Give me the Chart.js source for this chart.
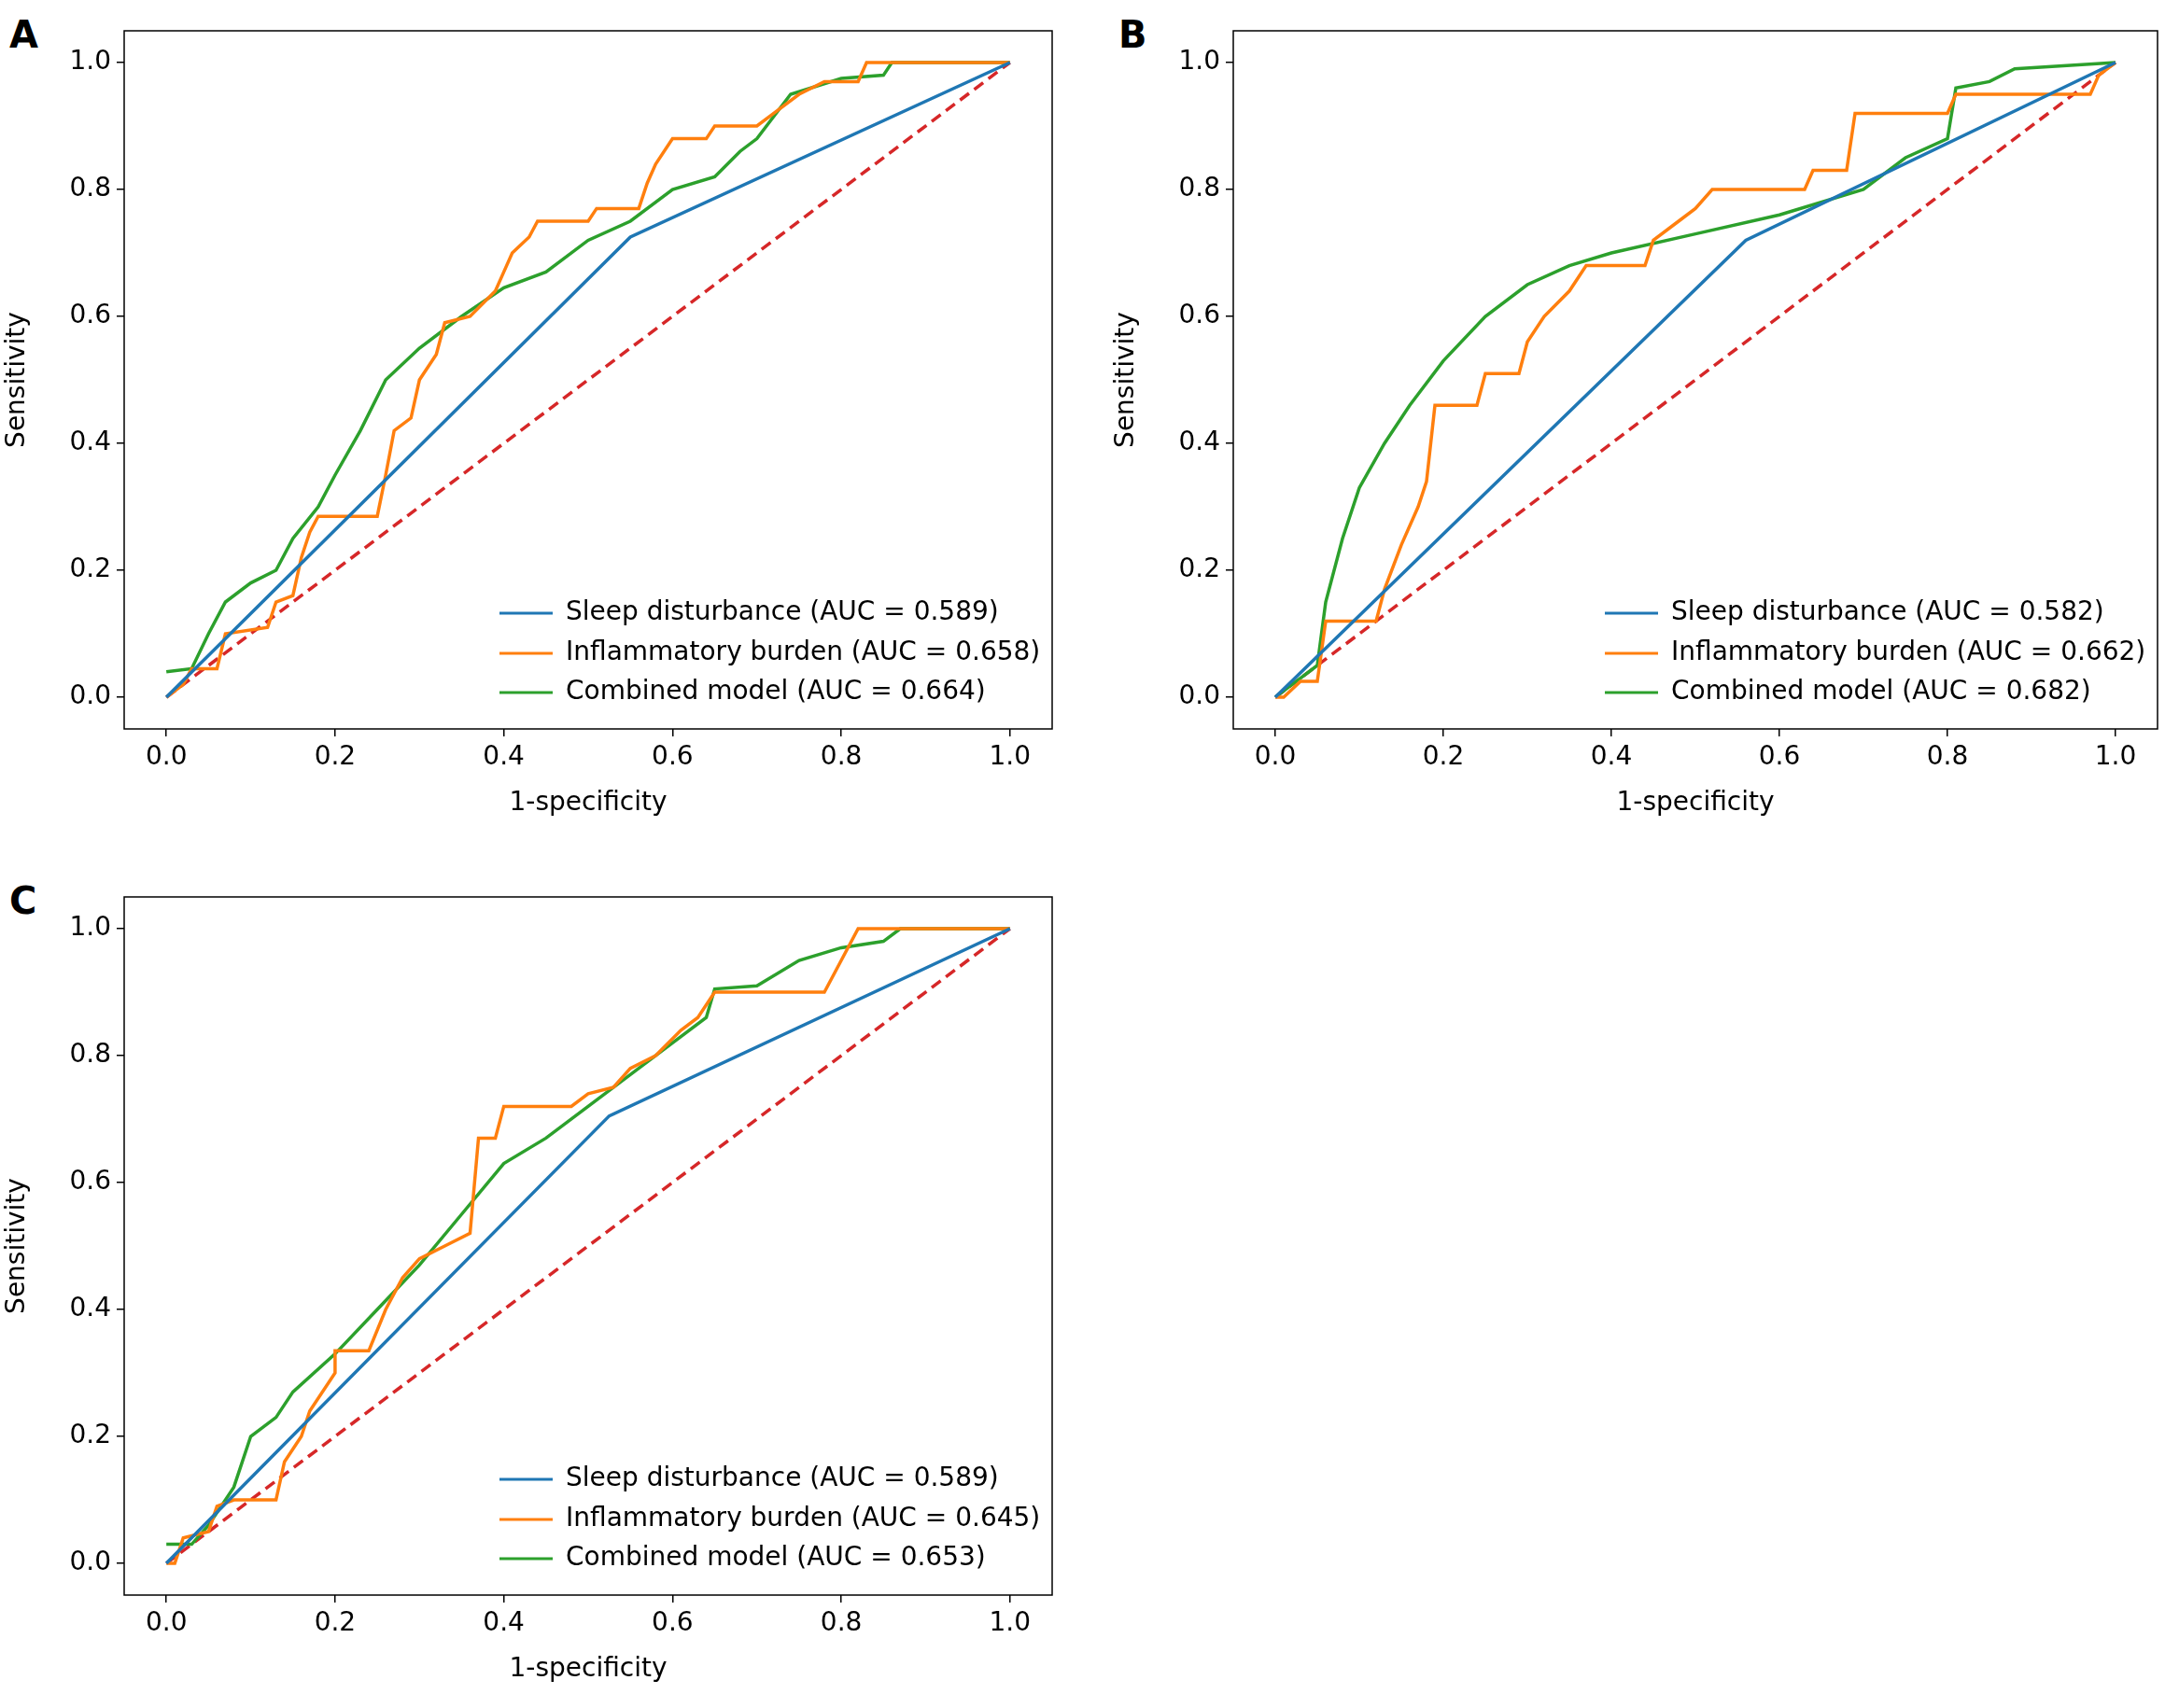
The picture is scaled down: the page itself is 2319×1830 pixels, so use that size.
<!DOCTYPE html>
<html><head><meta charset="utf-8">
<script src="https://cdn.jsdelivr.net/npm/chart.js@4.4.0/dist/chart.umd.min.js"></script>
<style>
body{margin:0;background:#fff;width:2319px;height:1830px;position:relative;overflow:hidden}
.p{position:absolute}
.lab{position:absolute;font:bold 40px "DejaVu Sans",sans-serif;color:#000}
</style></head><body>
<div class="lab" style="left:10px;top:14px">A</div>
<div class="lab" style="left:1198px;top:14px">B</div>
<div class="lab" style="left:10px;top:942px">C</div>
<div class="p" style="left:0;top:0;width:1135px;height:880px"><canvas id="cA"></canvas></div>
<div class="p" style="left:1188px;top:0;width:1131px;height:880px"><canvas id="cB"></canvas></div>
<div class="p" style="left:0;top:928px;width:1135px;height:880px"><canvas id="cC"></canvas></div>
<script>
const seriesNames = ['Sleep disturbance', 'Inflammatory burden', 'Combined model'];
const colors = ['#1f77b4', '#ff7f0e', '#2ca02c'];
const refColor = '#d62728';
const ticks = [0, 0.2, 0.4, 0.6, 0.8, 1.0];

const aucA = ['0.589', '0.658', '0.664'];
const aucB = ['0.582', '0.662', '0.682'];
const aucC = ['0.589', '0.645', '0.653'];

const sleepA = [[0,0],[0.55,0.725],[1,1]];
const inflamA = [[0,0],[0.02,0.02],[0.03,0.045],[0.06,0.045],[0.07,0.1],[0.12,0.11],[0.13,0.15],[0.15,0.16],[0.16,0.22],[0.17,0.26],[0.18,0.285],[0.25,0.285],[0.26,0.35],[0.27,0.42],[0.29,0.44],[0.3,0.5],[0.32,0.54],[0.33,0.59],[0.36,0.6],[0.39,0.64],[0.4,0.67],[0.41,0.7],[0.43,0.725],[0.44,0.75],[0.5,0.75],[0.51,0.77],[0.56,0.77],[0.57,0.81],[0.58,0.84],[0.6,0.88],[0.64,0.88],[0.65,0.9],[0.7,0.9],[0.72,0.92],[0.75,0.95],[0.78,0.97],[0.82,0.97],[0.83,1],[1,1]];
const combA = [[0,0.04],[0.03,0.045],[0.05,0.1],[0.07,0.15],[0.1,0.18],[0.13,0.2],[0.15,0.25],[0.18,0.3],[0.2,0.35],[0.23,0.42],[0.26,0.5],[0.3,0.55],[0.35,0.6],[0.4,0.645],[0.45,0.67],[0.5,0.72],[0.55,0.75],[0.6,0.8],[0.65,0.82],[0.68,0.86],[0.7,0.88],[0.74,0.95],[0.8,0.975],[0.85,0.98],[0.86,1],[1,1]];

const sleepB = [[0,0],[0.56,0.72],[1,1]];
const inflamB = [[0,0],[0.01,0],[0.03,0.025],[0.05,0.025],[0.06,0.12],[0.12,0.12],[0.13,0.17],[0.15,0.24],[0.17,0.3],[0.18,0.34],[0.19,0.46],[0.24,0.46],[0.25,0.51],[0.29,0.51],[0.3,0.56],[0.32,0.6],[0.35,0.64],[0.37,0.68],[0.44,0.68],[0.45,0.72],[0.48,0.75],[0.5,0.77],[0.52,0.8],[0.63,0.8],[0.64,0.83],[0.68,0.83],[0.69,0.92],[0.8,0.92],[0.81,0.95],[0.97,0.95],[0.98,0.98],[1,1]];
const combB = [[0,0],[0.02,0.02],[0.05,0.05],[0.06,0.15],[0.08,0.25],[0.1,0.33],[0.13,0.4],[0.16,0.46],[0.2,0.53],[0.25,0.6],[0.3,0.65],[0.35,0.68],[0.4,0.7],[0.5,0.73],[0.6,0.76],[0.7,0.8],[0.75,0.85],[0.8,0.88],[0.81,0.96],[0.85,0.97],[0.88,0.99],[1,1]];

const sleepC = [[0,0],[0.525,0.705],[1,1]];
const inflamC = [[0,0],[0.01,0],[0.02,0.04],[0.05,0.05],[0.06,0.09],[0.08,0.1],[0.13,0.1],[0.14,0.16],[0.16,0.2],[0.17,0.24],[0.2,0.3],[0.2,0.335],[0.24,0.335],[0.26,0.4],[0.28,0.45],[0.3,0.48],[0.33,0.5],[0.36,0.52],[0.37,0.67],[0.39,0.67],[0.4,0.72],[0.48,0.72],[0.5,0.74],[0.53,0.75],[0.55,0.78],[0.58,0.8],[0.61,0.84],[0.63,0.86],[0.65,0.9],[0.78,0.9],[0.8,0.95],[0.82,1],[1,1]];
const combC = [[0,0.03],[0.03,0.03],[0.05,0.06],[0.08,0.12],[0.1,0.2],[0.13,0.23],[0.15,0.27],[0.2,0.33],[0.25,0.4],[0.3,0.47],[0.35,0.55],[0.4,0.63],[0.45,0.67],[0.5,0.72],[0.55,0.77],[0.6,0.82],[0.64,0.86],[0.65,0.905],[0.7,0.91],[0.75,0.95],[0.8,0.97],[0.85,0.98],[0.87,1],[1,1]];
const diag = [[0,0],[1,1]];

const FONT = '"DejaVu Sans", sans-serif';
Chart.defaults.font.family = FONT;
Chart.defaults.color = '#000';

const boxLegend = {
  id: 'boxLegend',
  afterDraw(chart, args, opts) {
    const {ctx, chartArea: a} = chart;
    ctx.save();
    ctx.strokeStyle = '#000'; ctx.lineWidth = 1.5;
    ctx.strokeRect(a.left, a.top, a.right - a.left, a.bottom - a.top);
    ctx.font = '28px ' + FONT; ctx.textBaseline = 'middle'; ctx.fillStyle = '#000';
    const rows = [124, 81, 39];
    opts.auc.forEach((v, i) => {
      const y = a.bottom - rows[i], x0 = a.right - 592;
      ctx.strokeStyle = colors[i]; ctx.lineWidth = 3;
      ctx.beginPath(); ctx.moveTo(x0, y); ctx.lineTo(x0 + 57, y); ctx.stroke();
      ctx.fillText(seriesNames[i] + ' (AUC = ' + v + ')', x0 + 71, y);
    });
    ctx.restore();
  }
};

function pts(arr) { return arr.map(p => ({x: p[0], y: p[1]})); }

function axis(title, w, h) {
  return {
    type: 'linear', min: -0.05, max: 1.05,
    afterBuildTicks: s => { s.ticks = ticks.map(v => ({value: v})); },
    ticks: {font: {size: 28}, callback: v => v.toFixed(1), padding: 6},
    grid: {display: true, drawOnChartArea: false, drawTicks: true, tickLength: 8, color: '#000', lineWidth: 1.5},
    border: {display: false},
    title: {display: true, text: title, font: {size: 28}, padding: {top: 2, bottom: 2}},
    afterFit: s => { if (w) s.width = w; if (h) s.height = h; }
  };
}

function make(id, sets, auc) {
  new Chart(document.getElementById(id), {
    type: 'line',
    data: {datasets: [
      ...sets.map((d, i) => ({data: pts(d), borderColor: colors[i], borderWidth: 3.5, pointRadius: 0, tension: 0})),
      {data: pts(diag), borderColor: refColor, borderWidth: 3.5, borderDash: [12, 7], pointRadius: 0}
    ]},
    options: {
      responsive: true, maintainAspectRatio: false, animation: false,
      layout: {padding: {top: 33, right: 8, left: 0, bottom: 0}},
      plugins: {legend: {display: false}, tooltip: {enabled: false}, boxLegend: {auc}},
      scales: {x: axis('1-specificity', 0, 99), y: axis('Sensitivity', 133, 0)}
    },
    plugins: [boxLegend]
  });
}

make('cA', [sleepA, inflamA, combA], aucA);
make('cB', [sleepB, inflamB, combB], aucB);
make('cC', [sleepC, inflamC, combC], aucC);
</script>
</body></html>
